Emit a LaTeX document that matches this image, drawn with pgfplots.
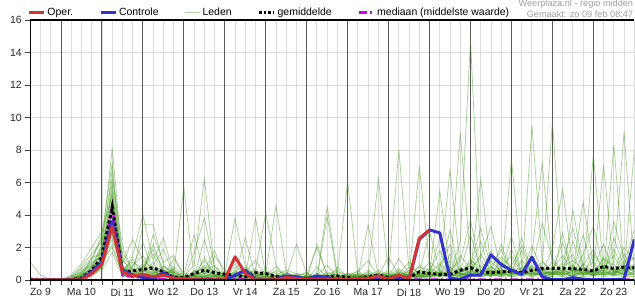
\documentclass[border=0pt]{standalone}
\usepackage{fontspec}
\setmainfont{Liberation Sans}
\usepackage{pgfplots}
\pgfplotsset{compat=1.18}
\usepackage{pgfplotstable}
\definecolor{opered}{RGB}{208,52,52}
\definecolor{ctlblue}{RGB}{50,50,205}
\definecolor{memgreen}{RGB}{60,150,20}
\definecolor{medmag}{RGB}{204,0,238}
\definecolor{lightgrid}{RGB}{220,220,220}
\definecolor{dayline}{RGB}{90,90,90}
\pgfplotsset{member/.style={draw=memgreen, line width=0.8bp, draw opacity=0.42, mark=none}}

\pgfplotstableread{
h op ctl mean med
6 0 0 0.05 0
12 0 0 0.02 0
18 0 0 0 0
24 0 0 0 0
30 0 0 0.02 0
36 0 0.05 0.1 0
42 0.4 0.5 0.6 0.35
48 0.95 1.1 1.4 1.1
54 3.3 3.6 4.5 4.5
60 0.5 0.6 0.5 0.3
66 0.25 0.3 0.55 0.2
72 0.35 0.15 0.65 0.15
78 0.2 0.05 0.75 0.1
84 0.3 0.45 0.5 0.05
90 0.1 0.1 0.15 0.02
96 0.1 0.05 0.15 0
102 0 0 0.4 0.05
108 0 0.05 0.6 0.1
114 0 0 0.45 0.05
120 0.02 0 0.35 0.05
126 1.43 0.3 0.3 0.05
132 0.4 0.6 0.2 0.02
138 0 0.05 0.45 0
144 0 0 0.4 0.02
150 0.02 0.05 0.2 0.02
156 0.15 0.25 0.15 0.02
162 0.1 0.2 0.15 0.02
168 0.03 0.05 0.1 0.02
174 0.03 0.25 0.15 0.02
180 0.05 0.15 0.2 0.02
186 0.05 0.05 0.25 0.02
192 0.05 0 0.15 0.02
198 0.1 0.05 0.1 0.02
204 0.1 0.1 0.2 0.02
210 0.25 0 0.3 0.02
216 0.05 0.05 0.15 0.02
222 0.3 0.15 0.2 0.02
228 0.05 0.05 0.15 0.02
234 2.56 2.5 0.5 0.02
240 3.08 3.08 0.4 0.02
246 nan 2.9 0.35 0.02
252 nan 0.1 0.35 0.02
258 nan 0.05 0.6 0.02
264 nan 0.3 0.75 0.02
270 nan 0.3 0.5 0.02
276 nan 1.55 0.45 0.02
282 nan 0.95 0.5 0.02
288 nan 0.6 0.55 0.02
294 nan 0.35 0.45 0.02
300 nan 1.4 0.6 0.02
306 nan 0.2 0.72 0.02
312 nan 0.02 0.72 0.02
318 nan 0.02 0.72 0.02
324 nan 0.15 0.7 0.02
330 nan 0.05 0.65 0.02
336 nan 0.02 0.55 0.02
342 nan 0.02 0.85 0.02
348 nan 0.02 0.7 0.02
354 nan 0.05 0.8 0.02
360 nan 2.5 0.75 0.02
}\main

\begin{document}
\begin{tikzpicture}
\path[use as bounding box] (0,0) rectangle (635bp,300bp);
\begin{axis}[
  name=ax,
  at={(30.3bp,20bp)}, anchor=south west,
  scale only axis, width=604bp, height=260bp,
  xmin=6, xmax=360, ymin=0, ymax=16,
  xtick={12,36,60,84,108,132,156,180,204,228,252,276,300,324,348},
  xticklabels={Zo 9,Ma 10,Di 11,Wo 12,Do 13,Vr 14,Za 15,Zo 16,Ma 17,Di 18,Wo 19,Do 20,Vr 21,Za 22,Zo 23},
  minor xtick={6,12,...,360},
  ytick={0,2,...,16},
  xmajorgrids, xminorgrids, ymajorgrids,
  major grid style={draw=lightgrid, line width=0.9bp},
  minor grid style={draw=lightgrid, line width=0.9bp},
  extra x ticks={24,48,72,96,120,144,168,192,216,240,264,288,312,336},
  extra x tick labels={},
  extra x tick style={grid=major, major grid style={draw=dayline, line width=1bp}, tick style={draw=none}},
  tick align=outside, xtick pos=bottom, ytick pos=left,
  major tick length=5bp, minor tick length=5bp,
  tick style={draw=black!75, line width=0.8bp},
  major x tick style={draw=none},
  axis line style={draw=none},
  /pgf/number format/assume math mode=true,
  every tick label/.append style={font=\fontsize{10.5}{12}\selectfont, text=black!85},
  legend columns=-1,
  legend style={at={(rel axis cs:0,1)}, anchor=south west, xshift=-3bp, yshift=1bp,
    draw=none, fill=none, inner sep=0pt, font=\fontsize{10.5}{12}\selectfont,
    /tikz/every even column/.append style={column sep=24bp}},
  legend image code/.code={\draw[#1] (0bp,0bp) -- (15bp,0bp);},
]
% ensemble members (Leden)
\addplot[member, forget plot] table[x expr=6+6*\coordindex, y index=0, header=false, row sep=\\] {1.1\\0.3\\0\\ 0\\0\\0.2\\0.8\\ 2.2\\8.1\\1.2\\0.6\\ 0.8\\1.9\\0.6\\0.2\\ 0\\0.3\\1.2\\0.4\\ 0.2\\1.0\\0.3\\0\\ 0.4\\0.1\\0\\0\\ 0\\0.3\\0.9\\0.2\\ 0\\0.1\\0\\0.5\\ 0.2\\1.3\\0.4\\0\\ 0.6\\1.8\\0.3\\2.4\\ 14.8\\1.2\\0.3\\0.8\\ 1.5\\0.4\\2.1\\0.6\\ 0.3\\1.1\\3.2\\0.8\\ 0.2\\1.4\\0.6\\2.0\\ 1.2\\};
\addplot[member, forget plot] table[x expr=6+6*\coordindex, y index=0, header=false, row sep=\\] {0\\0\\0\\ 0\\0.1\\0.5\\1.2\\ 2.8\\7.2\\0.8\\0.3\\ 3.4\\3.4\\0.9\\0.3\\ 0\\0.1\\0.6\\1.8\\ 0.3\\0\\0.5\\1.2\\ 0.3\\0.8\\0.1\\0\\ 0\\0\\0.2\\0.4\\ 6.05\\0.3\\0\\0.2\\ 0\\0.4\\1.1\\0.3\\ 0.5\\0.2\\1.6\\0.4\\ 0.9\\3.2\\0.7\\1.9\\ 0.4\\1.2\\0.6\\3.5\\ 1.3\\0.5\\0.2\\1.6\\ 3.3\\0.7\\1.5\\0.3\\ 0.9\\};
\addplot[member, forget plot] table[x expr=6+6*\coordindex, y index=0, header=false, row sep=\\] {0\\0\\0\\ 0\\0\\0.3\\0.6\\ 1.8\\6.8\\0.4\\1.5\\ 4.0\\1.2\\2.6\\0.4\\ 5.7\\0.2\\0\\0.3\\ 0\\0.2\\0.8\\0.1\\ 0\\0.3\\0.2\\2.2\\ 0.4\\0\\0.1\\0\\ 0.2\\0.6\\0\\0.1\\ 0.5\\8.0\\0.6\\0.2\\ 0.1\\0.8\\2.2\\0.5\\ 1.1\\0.4\\1.8\\0.3\\ 7.4\\0.9\\0.5\\1.1\\ 0.6\\2.3\\0.4\\0.9\\ 1.9\\0.4\\2.6\\0.8\\ 3.1\\};
\addplot[member, forget plot] table[x expr=6+6*\coordindex, y index=0, header=false, row sep=\\] {0\\0\\0\\ 0\\0.2\\0.8\\1.6\\ 2.4\\6.3\\2.1\\0.5\\ 0.4\\2.8\\1.1\\1.5\\ 0.2\\0.9\\6.25\\0.6\\ 0.1\\0.3\\0\\0.4\\ 0.2\\0\\0.5\\0.1\\ 0\\0.2\\4.5\\0.3\\ 0\\0\\0.4\\0.1\\ 0\\0.6\\0.2\\7.0\\ 0.9\\0.3\\0.6\\1.2\\ 3.7\\0.5\\0.2\\1.4\\ 0.8\\0.3\\9.5\\1.2\\ 0.4\\0.9\\1.6\\0.3\\ 0.7\\2.2\\0.4\\1.6\\ 0.5\\};
\addplot[member, forget plot] table[x expr=6+6*\coordindex, y index=0, header=false, row sep=\\] {0\\0\\0\\ 0\\0\\0.4\\1.0\\ 1.5\\6.0\\1.0\\2.5\\ 1.2\\0.7\\0.3\\0.1\\ 0\\1.7\\3.8\\0.8\\ 0.4\\3.8\\0.9\\0.2\\ 0\\0.1\\0.3\\0\\ 0.1\\0.4\\0\\0.8\\ 0.2\\0\\0.3\\6.25\\ 0.4\\0.1\\0\\0.9\\ 0.3\\2.6\\0.4\\9.1\\ 1.2\\0.8\\0.4\\0.2\\ 1.9\\0.5\\1.6\\7.2\\ 0.8\\0.3\\0.6\\4.8\\ 0.9\\0.4\\1.1\\9.1\\ 0.6\\};
\addplot[member, forget plot] table[x expr=6+6*\coordindex, y index=0, header=false, row sep=\\] {0.1\\0\\0\\ 0\\0.1\\0.6\\0.9\\ 1.2\\5.7\\0.3\\0.8\\ 2.3\\0.5\\0.2\\0.8\\ 0.3\\0.1\\1.4\\0.2\\ 0\\0.6\\0.2\\3.8\\ 0.3\\0.5\\0.1\\0\\ 0\\0.8\\0.2\\0\\ 0.3\\0.5\\1.2\\0.2\\ 0\\0.2\\0.8\\0.4\\ 1.1\\0.6\\6.8\\0.7\\ 0.5\\6.2\\0.8\\0.4\\ 0.3\\2.6\\0.5\\0.9\\ 9.75\\0.7\\0.2\\1.0\\ 0.5\\1.3\\0.9\\0.6\\ 2.2\\};
\addplot[member, forget plot] table[x expr=6+6*\coordindex, y index=0, header=false, row sep=\\] {0\\0\\0\\ 0\\0\\0.2\\0.5\\ 1.9\\5.4\\0.6\\1.1\\ 0.7\\1.6\\0.4\\0.5\\ 0.1\\0.4\\0.8\\0.3\\ 0\\0\\0.4\\0.6\\ 4.1\\0.9\\0.2\\0.1\\ 0.3\\0\\0\\0.2\\ 0\\0.2\\0\\0.3\\ 1.4\\0.3\\0.5\\0.8\\ 0.6\\0.2\\0.4\\1.5\\ 0.7\\1.4\\3.3\\0.6\\ 0.4\\0.8\\0.3\\0.5\\ 1.9\\5.6\\0.7\\0.4\\ 7.7\\0.5\\0.3\\1.2\\ 0.4\\};
\addplot[member, forget plot] table[x expr=6+6*\coordindex, y index=0, header=false, row sep=\\] {0\\0\\0\\ 0\\0.3\\1.0\\2.0\\ 3.0\\5.2\\1.4\\0.2\\ 0.5\\0.9\\1.9\\0.3\\ 0.2\\0\\0.3\\1.5\\ 0.6\\0.1\\0\\0.2\\ 0.4\\4.6\\0.5\\0\\ 0.2\\0.1\\0.3\\0\\ 0.1\\0\\0.2\\0.6\\ 0.3\\0.1\\0.4\\0.2\\ 0.4\\1.0\\0.3\\0.5\\ 2.8\\0.6\\0.4\\1.1\\ 0.6\\0.3\\1.3\\0.7\\ 0.3\\0.8\\1.2\\0.6\\ 0.6\\7.1\\0.5\\0.8\\ 1.4\\};
\addplot[member, forget plot] table[x expr=6+6*\coordindex, y index=0, header=false, row sep=\\] {0\\0\\0\\ 0\\0\\0.1\\0.4\\ 1.0\\5.0\\0.2\\0.4\\ 0.3\\0.6\\0.2\\1.3\\ 0.4\\0.2\\2.5\\0.3\\ 0.2\\0.5\\0.1\\0\\ 0.1\\0\\0.3\\0.2\\ 0.5\\0\\0.2\\0.1\\ 0.4\\0.2\\3.4\\0.3\\ 0.1\\0.5\\0.2\\0.4\\ 3.0\\0.5\\0.2\\0.6\\ 0.4\\0.9\\0.5\\2.2\\ 0.5\\1.8\\0.4\\0.3\\ 0.5\\0.4\\2.4\\0.6\\ 1.1\\0.3\\8.3\\0.6\\ 0.8\\};
\addplot[member, forget plot] table[x expr=6+6*\coordindex, y index=0, header=false, row sep=\\] {0\\0\\0\\ 0\\0.1\\0.3\\0.7\\ 2.0\\4.8\\0.9\\0.3\\ 0.6\\0.2\\0.8\\0.5\\ 0\\0.6\\0.2\\0.1\\ 0.3\\0.2\\0.6\\0.3\\ 0.6\\0.2\\0\\0.4\\ 0\\2.2\\0.3\\0\\ 0\\0.3\\0.1\\0.2\\ 0.6\\0.2\\0\\0.3\\ 0.4\\5.5\\0.6\\0.3\\ 0.6\\0.3\\1.2\\0.5\\ 2.7\\0.4\\0.8\\0.6\\ 0.7\\1.5\\0.5\\2.8\\ 0.4\\0.6\\1.9\\0.5\\ 8.0\\};
\addplot[member, forget plot] table[x expr=6+6*\coordindex, y index=0, header=false, row sep=\\] {0\\0\\0\\ 0\\0\\0.2\\1.4\\ 1.6\\4.6\\0.5\\0.9\\ 1.5\\0.4\\0.7\\0.2\\ 0.1\\0.3\\0.5\\0.9\\ 0.1\\0.8\\0.3\\0.1\\ 0.2\\0.1\\0.1\\0.3\\ 0.1\\0.3\\0\\0.4\\ 0\\0.1\\0.5\\0.2\\ 0.2\\0.7\\0.3\\0.1\\ 0.3\\0.4\\1.2\\0.3\\ 0.5\\2.4\\0.3\\0.9\\ 0.3\\0.5\\0.4\\0.8\\ 0.4\\0.6\\0.9\\0.3\\ 1.6\\0.8\\0.4\\0.7\\ 0.3\\};
\addplot[member, forget plot] table[x expr=6+6*\coordindex, y index=0, header=false, row sep=\\] {0\\0\\0\\ 0\\0\\0.1\\0.3\\ 0.9\\4.4\\0.3\\0.2\\ 0.9\\0.3\\0.5\\0.1\\ 0\\0.1\\0.4\\0.2\\ 0.5\\0.2\\0.3\\0.7\\ 0\\0.2\\0.1\\0\\ 0.2\\0.1\\0.5\\0.3\\ 0.2\\0.4\\0.1\\0\\ 0.1\\0.3\\0.1\\0.5\\ 0.2\\0.3\\0.5\\0.4\\ 0.3\\0.4\\0.6\\0.3\\ 0.9\\2.1\\0.6\\0.4\\ 0.6\\0.3\\0.5\\0.7\\ 0.4\\0.9\\0.6\\0.5\\ 0.7\\};
\addplot[member, forget plot] table[x expr=6+6*\coordindex, y index=0, header=false, row sep=\\] {0\\0\\0\\ 0\\0.2\\0.5\\1.1\\ 1.4\\4.2\\0.7\\0.4\\ 0.3\\1.1\\0.3\\0.2\\ 0\\0.5\\0.7\\0.3\\ 0\\0.3\\0.2\\0.5\\ 0.3\\0.4\\0\\0\\ 0\\0.1\\0.3\\0.6\\ 0.1\\0.4\\0.2\\0.4\\ 0.3\\0.2\\0.6\\0.3\\ 0.7\\0.4\\0.3\\0.8\\ 0.4\\1.6\\0.5\\0.4\\ 0.6\\0.7\\0.3\\0.5\\ 1.1\\0.4\\0.7\\0.5\\ 0.3\\0.5\\3.6\\1.3\\ 0.6\\};
\addplot[member, forget plot] table[x expr=6+6*\coordindex, y index=0, header=false, row sep=\\] {0\\0\\0\\ 0\\0\\0.4\\0.6\\ 1.3\\4.0\\1.7\\0.6\\ 0.4\\0.2\\0.6\\0.4\\ 0.1\\0.4\\0.1\\0.6\\ 0.2\\0.1\\0.7\\0.3\\ 0\\0.3\\0.2\\0.1\\ 0.3\\0.2\\0.1\\0.3\\ 0\\0\\0.3\\0.1\\ 0.2\\0.1\\0.2\\0.3\\ 0.2\\0.5\\0.2\\0.3\\ 0.6\\0.2\\0.4\\0.7\\ 0.3\\0.4\\0.9\\0.3\\ 0.2\\2.9\\0.3\\0.4\\ 0.6\\0.3\\0.7\\0.3\\ 0.4\\};
\addplot[member, forget plot] table[x expr=6+6*\coordindex, y index=0, header=false, row sep=\\] {0\\0\\0\\ 0\\0.1\\0.2\\0.8\\ 1.1\\3.8\\0.4\\1.3\\ 0.2\\0.8\\0.4\\0.6\\ 0.2\\0.3\\0.9\\0.5\\ 0.4\\0\\0.1\\0.2\\ 0.5\\0.1\\0.4\\0.2\\ 0.1\\0.4\\0.2\\0.1\\ 0.3\\0.1\\0.6\\0.2\\ 0.4\\0.3\\0.1\\0.2\\ 0.5\\0.3\\3.1\\0.2\\ 1.3\\0.5\\0.3\\0.6\\ 0.4\\0.6\\0.2\\0.5\\ 0.3\\0.5\\0.8\\0.4\\ 0.5\\0.6\\0.3\\0.9\\ 0.5\\};
\addplot[member, forget plot] table[x expr=6+6*\coordindex, y index=0, header=false, row sep=\\] {0\\0\\0\\ 0\\0\\0.3\\0.5\\ 1.7\\3.6\\0.3\\0.5\\ 1.0\\0.6\\0.2\\0.3\\ 0.1\\0.2\\0.6\\0.4\\ 0.1\\0.4\\0.2\\0.1\\ 0.2\\0.6\\0.3\\0.1\\ 0\\0.2\\0.4\\0.2\\ 0.2\\0.3\\0.2\\0.4\\ 0.1\\0.4\\0.3\\0.1\\ 0.3\\0.2\\0.7\\0.4\\ 0.2\\0.3\\0.8\\0.3\\ 0.5\\0.3\\0.6\\0.4\\ 0.5\\0.2\\4.3\\0.9\\ 0.2\\0.8\\0.5\\0.4\\ 1.0\\};
\addplot[member, forget plot] table[x expr=6+6*\coordindex, y index=0, header=false, row sep=\\] {0\\0\\0\\ 0\\0.2\\0.7\\1.3\\ 2.6\\3.4\\0.6\\0.7\\ 0.6\\0.4\\0.9\\0.4\\ 0.3\\2.8\\0.3\\0.2\\ 0.2\\0.5\\0.4\\0.2\\ 0.1\\0.2\\0.4\\0.3\\ 0.2\\0.1\\0\\0.1\\ 0.1\\0.2\\0.3\\0.4\\ 0.2\\0.4\\0.3\\0.6\\ 0.4\\0.3\\0.2\\0.5\\ 0.9\\0.3\\0.5\\0.4\\ 0.6\\0.2\\0.7\\0.4\\ 0.4\\0.3\\0.6\\0.3\\ 0.4\\0.7\\0.3\\0.5\\ 0.3\\};
\addplot[member, forget plot] table[x expr=6+6*\coordindex, y index=0, header=false, row sep=\\] {0\\0\\0\\ 0\\0\\0.1\\0.2\\ 0.8\\3.3\\0.5\\0.3\\ 0.4\\0.3\\0.3\\0.5\\ 0.2\\0.3\\0.4\\0.3\\ 0.3\\0.2\\2.6\\0.2\\ 0.1\\0.2\\0.3\\0.2\\ 0.2\\0.3\\0.2\\0.5\\ 0.3\\0.2\\0.1\\0.2\\ 0.3\\0.2\\0.4\\0.3\\ 0.3\\0.5\\0.3\\0.2\\ 0.5\\0.4\\0.3\\0.5\\ 0.4\\0.5\\0.3\\0.6\\ 0.7\\0.4\\0.3\\0.5\\ 0.3\\0.4\\0.6\\0.3\\ 0.4\\};
\addplot[member, forget plot] table[x expr=6+6*\coordindex, y index=0, header=false, row sep=\\] {0\\0\\0\\ 0\\0.1\\0.4\\0.9\\ 2.1\\3.0\\0.2\\0.6\\ 0.5\\2.2\\0.5\\0.3\\ 0\\0.2\\0.3\\0.1\\ 0\\0.3\\0.5\\0.4\\ 0.2\\0.3\\0.6\\0.4\\ 0.3\\2.0\\0.3\\0.2\\ 0.4\\0.3\\0.2\\0.1\\ 0.2\\0.5\\0.2\\0.3\\ 0.6\\0.3\\0.8\\0.4\\ 0.3\\0.6\\0.4\\0.3\\ 0.7\\0.3\\0.5\\0.3\\ 0.5\\0.6\\0.4\\0.3\\ 0.6\\0.3\\0.4\\0.7\\ 0.6\\};
\addplot[member, forget plot] table[x expr=6+6*\coordindex, y index=0, header=false, row sep=\\] {0\\0\\0\\ 0\\0\\0.2\\0.4\\ 0.7\\2.8\\0.4\\0.2\\ 0.2\\0.5\\0.2\\0.7\\ 0.1\\0.2\\0.2\\0.5\\ 0.4\\0.1\\0.1\\0.3\\ 0.2\\0.2\\0.2\\0.1\\ 0.2\\0.1\\3.9\\0.2\\ 0.2\\0.1\\0.4\\0.3\\ 0.4\\0.2\\0.3\\0.2\\ 0.2\\0.6\\0.3\\0.3\\ 0.4\\0.5\\0.6\\0.4\\ 0.3\\0.6\\0.5\\0.2\\ 0.4\\0.5\\0.6\\0.4\\ 0.5\\0.4\\0.3\\0.4\\ 0.5\\};
\addplot[member, forget plot] table[x expr=6+6*\coordindex, y index=0, header=false, row sep=\\] {0\\0\\0\\ 0\\0.1\\0.3\\0.6\\ 1.4\\2.5\\0.8\\0.4\\ 0.3\\0.4\\0.6\\0.2\\ 0\\0.4\\0.5\\0.2\\ 0.2\\0.3\\0.2\\0.4\\ 0.3\\0.1\\0.2\\0.3\\ 0.4\\0.2\\0.3\\0.1\\ 0.1\\0.4\\0.3\\0.2\\ 0.3\\0.2\\0.2\\0.4\\ 0.3\\0.4\\0.2\\0.5\\ 0.7\\0.3\\0.4\\0.3\\ 0.4\\0.5\\0.4\\0.6\\ 0.3\\0.5\\0.3\\0.6\\ 0.4\\0.3\\0.5\\0.6\\ 0.4\\};
\addplot[member, forget plot] table[x expr=6+6*\coordindex, y index=0, header=false, row sep=\\] {0\\0\\0\\ 0\\0\\0.2\\0.5\\ 1.0\\2.2\\0.3\\0.3\\ 0.2\\0.3\\0.4\\0.3\\ 0.1\\0.2\\0.2\\0.3\\ 0.3\\0.2\\0.1\\0.2\\ 0.2\\0.1\\0.2\\0.2\\ 0.1\\0.2\\0.1\\0.2\\ 0.2\\0.3\\0.1\\0.2\\ 0.1\\0.3\\0.2\\0.2\\ 0.4\\0.2\\0.4\\0.3\\ 0.3\\0.4\\0.2\\0.5\\ 0.2\\0.3\\0.4\\0.3\\ 0.3\\0.4\\0.2\\0.5\\ 0.3\\0.5\\0.4\\0.3\\ 0.2\\};
\addplot[member, forget plot] table[x expr=6+6*\coordindex, y index=0, header=false, row sep=\\] {0\\0\\0\\ 0\\0.1\\0.3\\0.8\\ 1.2\\2.0\\0.4\\0.2\\ 0.3\\0.2\\0.3\\0.2\\ 0.1\\0.3\\0.1\\0.2\\ 0.1\\0.2\\0.3\\0.1\\ 0.1\\0.3\\0.1\\0.2\\ 0.1\\0.1\\0.3\\0.2\\ 0.1\\0.2\\0.2\\0.3\\ 0.2\\0.1\\0.3\\0.2\\ 0.2\\0.3\\0.2\\0.4\\ 0.4\\0.3\\0.3\\0.2\\ 0.3\\0.4\\0.3\\0.5\\ 0.4\\0.3\\0.5\\0.3\\ 0.4\\0.3\\0.5\\0.4\\ 0.3\\};
\addplot[member, forget plot] table[x expr=6+6*\coordindex, y index=0, header=false, row sep=\\] {0\\0\\0\\ 0\\0\\0.1\\0.3\\ 0.6\\1.7\\0.2\\0.4\\ 0.2\\0.1\\0.2\\0.3\\ 0.1\\0.1\\0.2\\0.1\\ 0.2\\0.1\\0.2\\0.3\\ 0.2\\0.2\\0.1\\0.1\\ 0.2\\0.1\\0.1\\0.1\\ 0.3\\0.2\\0.1\\0.1\\ 0.1\\0.2\\0.1\\0.2\\ 0.2\\0.1\\0.3\\0.2\\ 0.3\\0.2\\0.3\\0.3\\ 0.2\\0.3\\0.2\\0.4\\ 0.2\\0.2\\0.3\\0.2\\ 0.3\\0.2\\0.3\\0.2\\ 0.2\\};
% median, mean, control, operational
\addplot[medmag, line width=2.5bp, dash pattern=on 8bp off 3bp on 2bp off 3bp, forget plot] table[x=h, y=med] {\main};
\addplot[black, line width=3bp, dash pattern=on 3bp off 2.5bp, forget plot] table[x=h, y=mean] {\main};
\addplot[ctlblue, line width=3bp, line join=round, forget plot] table[x=h, y=ctl] {\main};
\addplot[opered, line width=3bp, line join=round, forget plot] table[x=h, y=op] {\main};
\addlegendimage{opered, line width=3bp}
\addlegendentry{Oper.}
\addlegendimage{ctlblue, line width=3bp}
\addlegendentry{Controle}
\addlegendimage{draw=memgreen!40, line width=1bp}
\addlegendentry{Leden}
\addlegendimage{black, line width=3bp, dash pattern=on 2.5bp off 2bp}
\addlegendentry{gemiddelde}
\addlegendimage{medmag, line width=2.5bp, dash pattern=on 8bp off 3bp on 2bp off 3bp}
\addlegendentry{mediaan (middelste waarde)}
\end{axis}
\draw[black, line width=1.2bp] (ax.south west) -- (ax.north west) -- (ax.north east);
\draw[black, line width=1.2bp] (ax.south west) -- (ax.south east);
\node[anchor=south east, align=right, inner sep=0pt, font=\fontsize{9.2}{10.5}\selectfont, text=black!38] at ([xshift=-1bp, yshift=2.3bp]ax.north east) {Weerplaza.nl - regio midden\\Gemaakt: zo 09 feb 08:47};
\end{tikzpicture}
\end{document}
